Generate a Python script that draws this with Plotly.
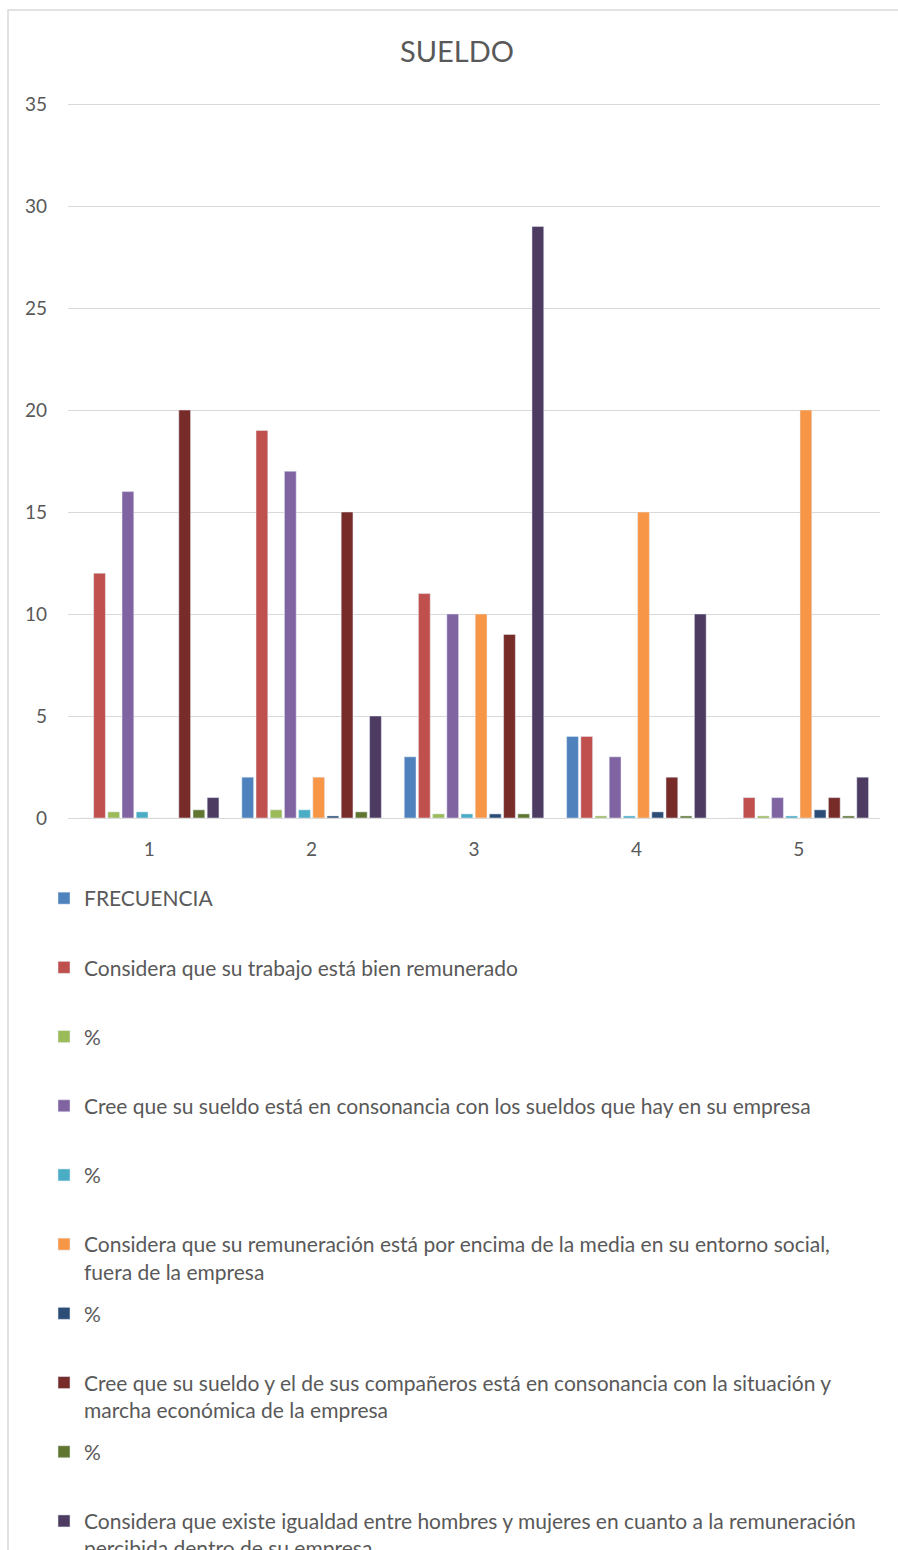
import plotly.graph_objects as go

categories = ["1", "2", "3", "4", "5"]

series_names = [
    "FRECUENCIA",
    "Considera que su trabajo está bien remunerado",
    "%",
    "Cree que su sueldo está en consonancia con los sueldos que hay en su empresa",
    "%",
    "Considera que su remuneración está por encima de la media en su entorno social,<br>fuera de la empresa",
    "%",
    "Cree que su sueldo y el de sus compañeros está en consonancia con la situación y<br>marcha económica de la empresa",
    "%",
    "Considera que existe igualdad entre hombres y mujeres en cuanto a la remuneración<br>percibida dentro de su empresa",
]

frecuencia = [0, 2, 3, 4, 0]
bien_remunerado = [12, 19, 11, 4, 1]
pct_1 = [0.3, 0.4, 0.2, 0.1, 0.1]
consonancia_empresa = [16, 17, 10, 3, 1]
pct_2 = [0.3, 0.4, 0.2, 0.1, 0.1]
encima_media = [0, 2, 10, 15, 20]
pct_3 = [0, 0.1, 0.2, 0.3, 0.4]
situacion_empresa = [20, 15, 9, 2, 1]
pct_4 = [0.4, 0.3, 0.2, 0.1, 0.1]
igualdad = [1, 5, 29, 10, 2]

series_values = [frecuencia, bien_remunerado, pct_1, consonancia_empresa, pct_2,
                 encima_media, pct_3, situacion_empresa, pct_4, igualdad]

colors = ["#4F81BD", "#C0504D", "#9BBB59", "#8064A2", "#4BACC6",
          "#F79646", "#2C4D75", "#772C2A", "#5F7530", "#4D3B62"]

y_ticks = [0, 5, 10, 15, 20, 25, 30, 35]

fig = go.Figure()
for i, (name, vals, col) in enumerate(zip(series_names, series_values, colors)):
    label = name if "<br>" in name else name + "<br>&nbsp;"
    fig.add_trace(go.Bar(
        x=categories, y=vals, name=label, marker_color=col,
        legendgroup="g%d" % i,
    ))

W, H = 898, 1550
L, R, T, B = 68, 18, 103, H - 818
pw, ph = W - L - R, 818 - T

def px_x(p):
    return (p - L) / pw

def px_y(p):
    return (818 - p) / ph

fig.update_layout(
    width=W, height=H,
    margin=dict(l=L, r=R, t=T, b=B, autoexpand=False),
    paper_bgcolor="white", plot_bgcolor="white",
    font=dict(family="Lato, 'Open Sans', sans-serif", color="#595959"),
    title=dict(text="SUELDO", x=457 / W, xanchor="center", y=1 - 52 / H, yanchor="middle",
               font=dict(size=29, color="#595959")),
    barmode="group", bargap=0.126, bargroupgap=0.17,
    showlegend=True,
    legend=dict(
        orientation="v", x=px_x(44), xanchor="left", y=px_y(878), yanchor="top",
        font=dict(size=21, color="#595959"), valign="top",
        tracegroupgap=11.6, maxheight=1200, bgcolor="rgba(0,0,0,0)",
    ),
    xaxis=dict(type="category", showgrid=False, showline=True, linecolor="#d9d9d9",
               linewidth=1, ticks="", ticklabelstandoff=14,
               tickfont=dict(size=19, color="#595959")),
    yaxis=dict(range=[0, 35.05], tickvals=y_ticks, showgrid=True, gridcolor="#d9d9d9",
               gridwidth=1, zeroline=False, showline=False, ticks="",
               ticklabelstandoff=20,
               tickfont=dict(size=19, color="#595959")),
    shapes=[dict(type="rect", xref="paper", yref="paper",
                 x0=px_x(8), x1=px_x(906), y0=px_y(1580), y1=px_y(10),
                 line=dict(color="#d9d9d9", width=1.5), fillcolor="rgba(0,0,0,0)",
                 layer="below")],
)

fig.write_html("out.html")
